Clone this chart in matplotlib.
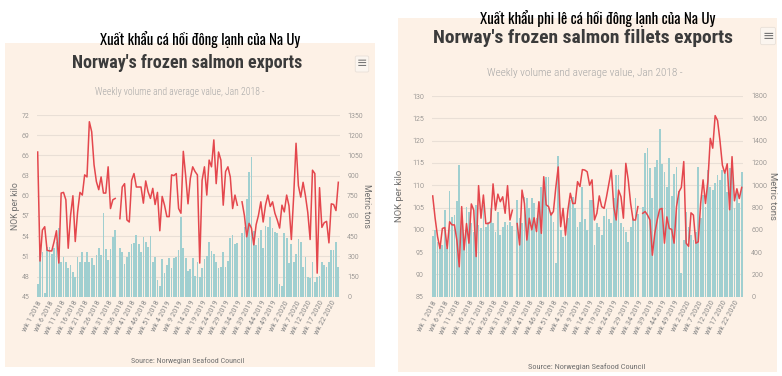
import numpy as np
import matplotlib
matplotlib.use("Agg")
import matplotlib.pyplot as plt
from matplotlib.patches import Rectangle

nan = np.nan

# ---------------- data ----------------
weeks = ([f"wk {w} 2018" for w in range(1, 53)] +
         [f"wk {w} 2019" for w in range(1, 53)] +
         [f"wk {w} 2020" for w in range(1, 26)])

xtick_labels = ["wk 1 2018", "wk 6 2018", "wk 11 2018", "wk 16 2018", "wk 21 2018",
                "wk 26 2018", "wk 31 2018", "wk 36 2018", "wk 41 2018", "wk 46 2018",
                "wk 51 2018", "wk 4 2019", "wk 9 2019", "wk 14 2019", "wk 19 2019",
                "wk 24 2019", "wk 29 2019", "wk 34 2019", "wk 39 2019", "wk 44 2019",
                "wk 49 2019", "wk 2 2020", "wk 7 2020", "wk 12 2020", "wk 17 2020",
                "wk 22 2020"]

# Left chart: frozen salmon (metric tons, NOK per kilo)
salmon_tons = [92, 322, 334, 25, 372, 372, 317, 360, 410, 508,
               260, 297, 260, 210, 235, 186, 149, 297, 260, 334,
               260, 329, 260, 285, 235, 310, 359, 310, 625, 352,
               272, 352, 446, 496, nan, 359, 334, 240, 297, 334,
               389, 396, 458, 389, 334, 446, 409, 371, 453, 260,
               297, 124, 80, 277, 173, 235, 285, 216, 285, 297,
               347, 595, 359, 285, 191, 205, 285, 156, 255, 149,
               215, 280, 305, 409, 340, 315, 255, 215, 223, 335,
               223, 265, 434, 458, 389, 396, nan, 471, 520, 723,
               928, 1035, 488, 384, 434, 496, 359, 528, 520, 594,
               508, 483, 471, 95, 80, 475, 438, 248, 389, 260,
               315, 426, 409, 223, 297, 149, 136, 260, 112, 149,
               156, 260, 235, 223, 260, 347, 347, 409, 218]
salmon_nok = [66.5, 50.3, 54.9, 55.4, 51.9, 51.8, 51.8, 53.2, 54.8, 50.0,
              60.4, 60.5, 59.4, 52.2, 57.1, 60.0, 53.2, 57.6, 60.5, 60.1,
              63.1, 62.8, 71.0, 69.5, 64.6, 62.1, 60.9, 62.8, 60.4, 60.4,
              64.3, 58.1, 59.4, 59.6, nan, 56.6, 61.3, 61.8, 56.4, 56.1,
              62.3, 63.3, 61.3, 61.3, 61.3, 58.9, 62.2, 60.6, 59.6, 61.1,
              58.7, 60.5, 54.8, 59.9, 58.6, 56.9, 56.9, 63.1, 63.0, 63.3,
              58.1, 57.4, 66.6, 63.0, 58.8, 62.6, 64.3, 63.6, 63.1, 50.0,
              62.3, 64.3, 60.1, 65.3, 64.3, 68.3, 61.8, 66.5, 65.3, 58.6,
              63.6, 64.3, 62.8, 58.1, 60.1, 58.6, nan, 59.1, 57.1, 53.9,
              55.9, 55.2, 52.7, 55.7, 57.1, 59.1, 56.1, 58.6, 60.1, 58.4,
              59.1, 57.4, 56.4, 55.2, 58.6, 57.6, 60.1, 58.5, 53.5, 60.0,
              67.8, 61.5, 59.8, 62.0, 60.0, 57.5, 53.5, 63.8, 63.3, 48.5,
              61.2, 55.3, 56.0, 56.2, 53.0, 58.8, 58.7, 57.8, 62.0]

# Right chart: frozen salmon fillets (metric tons, NOK per kilo)
fillet_tons = [547, 598, 493, 478, 463, 777, 433, 948, 717, 733,
               858, 1181, 712, 508, 807, 762, 658, 583, 822, 643,
               613, 822, 628, 673, 792, 658, 583, 762, 553, 628,
               673, 643, 673, 634, nan, 867, 703, 658, 897, 882,
               792, 882, 837, 703, 852, 987, 957, 1070, 1076, 762,
               673, 299, 1262, 598, 538, 598, 703, 867, 897, 792,
               628, 673, 987, 700, 598, 867, 867, 463, 658, 628,
               553, 723, 783, 697, 658, 882, 1091, 1091, 658, 628,
               583, 493, 628, 703, 882, 742, nan, 807, 1286, 1330,
               1151, 882, 1166, 1226, 1501, 1190, 1121, 987, 1241, 903,
               1100, 1160, 951, 209, 508, 762, 628, 553, 508, 583,
               1166, 703, 912, 807, 1136, 987, 957, 1017, 1091, 1046,
               1136, 1106, 942, 1151, 1211, 792, 957, 837, 1121]
fillet_nok = [107.6, 102.6, 98.5, 95.8, 100.3, 100.5, 95.8, 101.8, 101.1, 101.1,
              97.7, 91.7, 105.2, 95.5, 101.4, 97.0, 105.8, 104.4, 94.0, 109.9,
              102.6, 107.8, 101.4, 101.4, 101.8, 110.3, 104.4, 108.0, 106.3, 107.4,
              103.7, 109.9, 102.2, 104.4, nan, 101.4, 96.6, 108.9, 105.9, 97.7,
              102.6, 100.0, 102.7, 99.6, 106.3, 99.2, 111.9, 105.6, 105.2, 103.3,
              104.1, 109.5, 114.1, 100.7, 104.8, 98.8, 104.4, 108.2, 105.9, 105.9,
              110.8, 109.7, 113.5, 113.4, 113.0, 110.0, 111.2, 102.2, 103.7, 107.6,
              105.2, 104.8, 107.4, 110.4, 113.4, 105.2, 102.2, 108.9, 107.4, 102.6,
              114.9, 111.2, 105.9, 102.2, 102.2, 105.2, nan, 103.7, 104.1, 103.3,
              102.2, 94.3, 99.2, 102.2, 104.6, 104.8, 97.0, 102.9, 100.3, 100.1,
              97.0, 105.2, 108.5, 109.5, 115.3, 97.0, 96.3, 103.8, 103.3, 97.0,
              97.3, 105.9, 111.2, 105.9, 111.0, 120.5, 118.3, 125.6, 124.5, 120.0,
              114.5, 112.7, 114.8, 104.5, 116.4, 106.5, 109.2, 107.0, 109.5]

left_nok_ticks = [45, 48, 51, 54, 57, 60, 63, 66, 69, 72]
left_ton_ticks = [0, 150, 300, 450, 600, 750, 900, 1050, 1200, 1350]
right_nok_ticks = [85, 90, 95, 100, 105, 110, 115, 120, 125, 130]
right_ton_ticks = [0, 200, 400, 600, 800, 1000, 1200, 1400, 1600, 1800]

# ---------------- style ----------------
W, H = 782, 376
PEACH = "#fdf1e6"
TEAL = "#a0cfd0"
RED = "#e4474d"
GRID = "#e9dfd6"
COND = ["Roboto Condensed", "DejaVu Sans"]
VIET = ["Oswald", "Roboto Condensed", "DejaVu Sans"]
REG = ["Roboto", "DejaVu Sans"]

plt.rcParams["font.family"] = COND
plt.rcParams["font.weight"] = "light"

fig = plt.figure(figsize=(W / 100, H / 100), dpi=100)
fig.patch.set_facecolor("white")


def fx(x):
    return x / W


def fy(y):
    return 1 - y / H


def draw_panel(box, plot, vt, nt, vols, prices, vticks, nticks,
               viet, title, sub, src, sizes, icon, ylab_x, ylab_r_x, ylab_y):
    x0, y0, x1, y1 = box
    fig.add_artist(Rectangle((fx(x0), fy(y1)), fx(x1) - fx(x0), fy(y0) - fy(y1),
                             transform=fig.transFigure, facecolor=PEACH,
                             edgecolor="none", zorder=0))
    px0, py0, px1, py1 = plot
    ax = fig.add_axes([fx(px0), fy(py1), fx(px1) - fx(px0), fy(py0) - fy(py1)])
    ax.patch.set_visible(False)
    ax2 = ax.twinx()
    x = np.arange(len(weeks))

    # bars: metric tons on the right-hand scale
    ax.bar(x, vols, width=0.74, color=TEAL, zorder=2, linewidth=0)
    ax.set_xlim(-0.5, len(weeks) - 0.5)
    ax.set_ylim(vticks[0], vticks[-1])
    ax.set_yticks(vticks)
    ax.yaxis.tick_right()
    ax.yaxis.grid(True, color=GRID, linewidth=0.8, zorder=0)
    ax.set_axisbelow(True)
    ticks = [weeks.index(l) for l in xtick_labels]
    ax.set_xticks(ticks)
    ax.set_xticklabels(xtick_labels, rotation=62, ha="right", va="top",
                       rotation_mode="anchor", fontweight="normal")
    ax.tick_params(axis="x", length=0, labelsize=sizes["xt"], labelcolor="#8c8c8c",
                   pad=sizes["padx"])
    ax.tick_params(axis="y", length=0, labelsize=sizes["yt"], labelcolor="#777777",
                   pad=sizes["padr"], right=False, labelright=True, left=False,
                   labelleft=False)

    # line: NOK per kilo on the left-hand scale
    ax2.plot(x, prices, color=RED, linewidth=1.1, zorder=3)
    ax2.set_ylim(nticks[0], nticks[-1])
    ax2.set_yticks(nticks)
    ax2.yaxis.tick_left()
    ax2.tick_params(axis="y", length=0, labelsize=sizes["yt"], labelcolor="#777777",
                    pad=sizes["padl"], left=False, labelleft=True, right=False,
                    labelright=False)
    for a in (ax, ax2):
        for s in a.spines.values():
            s.set_visible(False)

    fig.text(fx(ylab_x), fy(ylab_y), "NOK per kilo", rotation=90, ha="center",
             va="center", fontsize=sizes["lab"], family=REG, weight="normal",
             color="#707070")
    fig.text(fx(ylab_r_x), fy(ylab_y), "Metric tons", rotation=270, ha="center",
             va="center", fontsize=sizes["lab"], family=REG, weight="normal",
             color="#707070")

    vx, vy = viet
    fig.text(fx(vx), fy(vy), vt, ha="center", va="center", fontsize=sizes["viet"],
             family=VIET, weight="normal", color="black", zorder=5)
    tx, ty = title
    fig.text(fx(tx), fy(ty), nt, ha="center", va="center", fontsize=sizes["title"],
             family=COND, weight="bold", color="#3b3b3b")
    sx, sy = sub
    fig.text(fx(sx), fy(sy), "Weekly volume and average value, Jan 2018 -",
             ha="center", va="center", fontsize=sizes["sub"], family=COND,
             weight="light", color="#a6a6a6")
    cx, cy = src
    fig.text(fx(cx), fy(cy), "Source: Norwegian Seafood Council", ha="center",
             va="center", fontsize=sizes["src"], family=COND, weight="normal",
             color="#707070")
    ix, iy = icon
    fig.text(fx(ix), fy(iy), "\u2261", ha="center", va="center", fontsize=sizes["icon"],
             family=["DejaVu Sans"], weight="normal", color="#777777",
             bbox=dict(boxstyle="round,pad=0.12", facecolor="#fbf5ef",
                       edgecolor="#e8e0d8", linewidth=0.6))


draw_panel(box=(5, 43, 375, 367), plot=(36.5, 115, 339.5, 296.7),
           vt="Xuất khẩu cá hồi đông lạnh của Na Uy",
           nt="Norway's frozen salmon exports",
           vols=salmon_tons, prices=salmon_nok,
           vticks=left_ton_ticks, nticks=left_nok_ticks,
           viet=(200, 39), title=(187, 63), sub=(180, 92), src=(188, 361),
           sizes=dict(xt=6.0, yt=5.8, padr=5.5, padl=5.0, padx=2, lab=6.2,
                      viet=10.7, title=13, sub=6.9, src=5.8, icon=9),
           icon=(362, 64), ylab_x=15.5, ylab_r_x=366, ylab_y=206)

draw_panel(box=(398, 18, 777, 372), plot=(431.5, 96, 742.9, 296.7),
           vt="Xuất khẩu phi lê cá hồi đông lạnh của Na Uy",
           nt="Norway's frozen salmon fillets exports",
           vols=fillet_tons, prices=fillet_nok,
           vticks=right_ton_ticks, nticks=right_nok_ticks,
           viet=(598, 18), title=(583, 38), sub=(585, 73), src=(587, 367),
           sizes=dict(xt=6.0, yt=5.9, padr=6.0, padl=5.5, padx=2, lab=6.8,
                      viet=10.8, title=14.0, sub=8.0, src=6.0, icon=10),
           icon=(768, 36), ylab_x=400, ylab_r_x=772, ylab_y=196)

fig.savefig("out.png", dpi=100, facecolor="white")
